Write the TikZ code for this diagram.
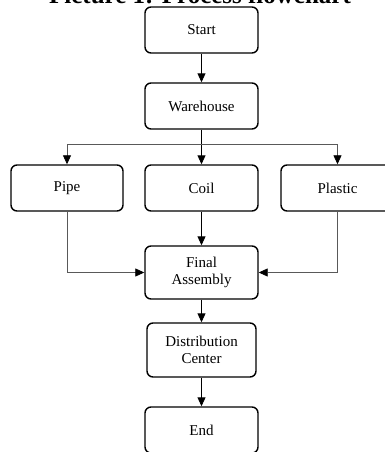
\documentclass[tikz,border=0pt]{standalone}
\usepackage{fontspec}
\setmainfont{Liberation Serif}
\usetikzlibrary{arrows.meta}
\tikzset{
  box/.style={draw, line width=1.4pt, rounded corners=6pt, inner sep=0pt, align=center,
    minimum width=113pt, minimum height=46pt, font=\fontsize{15}{17}\selectfont},
  arr/.style={draw=black, line width=0.9pt, -{Triangle[length=9pt,width=8pt]}},
  garr/.style={draw=black!65, line width=0.8pt, -{Triangle[length=9pt,width=8pt,color=black]}},
}
\begin{document}
\begin{tikzpicture}[x=1pt,y=1pt]
\useasboundingbox (0,0) rectangle (385,-452);
\clip (0,0) rectangle (385,-452);
\node[anchor=base, font=\bfseries\fontsize{25}{30}\selectfont] (title) at (200,-3.5) {Picture 1: Process flowchart};
\node[box] (start) at (201.5,-30) {Start};
\node[box] (warehouse) at (201.5,-106) {Warehouse};
\node[box, minimum width=112pt] (pipe) at (67,-188) {Pipe};
\node[box] (coil) at (201.5,-188) {Coil};
\node[box] (plastic) at (337.5,-188) {Plastic};
\node[box, minimum height=53pt] (final) at (201.5,-272.5) {Final\\Assembly};
\node[box, minimum width=109pt, minimum height=54pt] (dist) at (201.5,-350) {Distribution\\Center};
\node[box] (end) at (201.5,-430) {End};
\coordinate (bj) at (201.5,-144);
\draw[arr] (start) -- (warehouse);
\draw[arr] (warehouse) -- (coil);
\draw[garr] (bj) -| (pipe);
\draw[garr] (bj) -| (plastic);
\draw[arr] (coil) -- (final);
\draw[garr] (pipe.south) |- (final.west);
\draw[garr] (plastic.south) |- (final.east);
\draw[arr] (final) -- (dist);
\draw[arr] (dist) -- (end);
\end{tikzpicture}
\end{document}
